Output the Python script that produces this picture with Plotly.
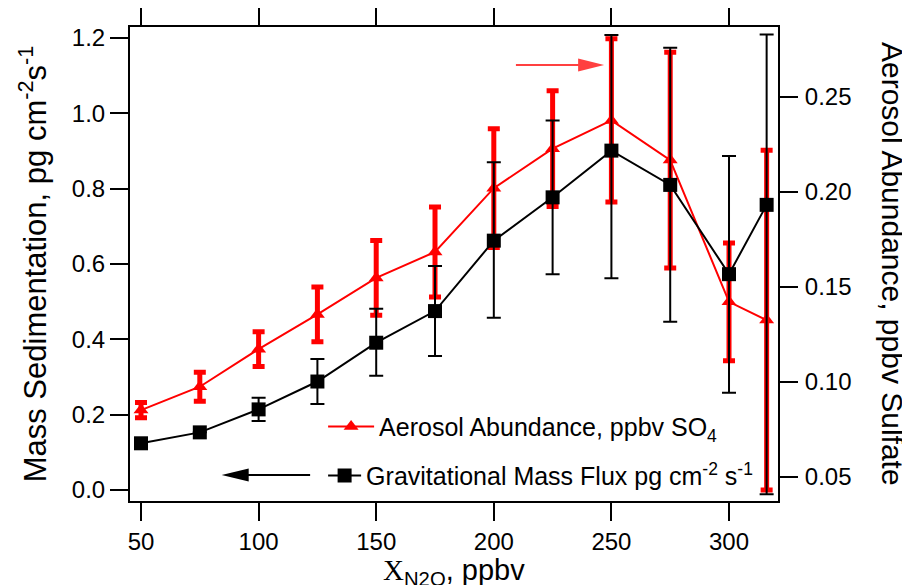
import plotly.graph_objects as go

# ---- data ----
x_n2o = [50, 75, 100, 125, 150, 175, 200, 225, 250, 275, 300, 316]

# Gravitational mass flux (left axis, pg cm-2 s-1)
mass_flux = [0.124, 0.153, 0.214, 0.288, 0.391, 0.475, 0.662, 0.777, 0.901, 0.810, 0.573, 0.757]
mass_err_plus = [0.0, 0.0, 0.031, 0.060, 0.090, 0.120, 0.208, 0.204, 0.307, 0.364, 0.314, 0.452]
mass_err_minus = [0.0, 0.0, 0.031, 0.060, 0.088, 0.119, 0.205, 0.204, 0.339, 0.363, 0.315, 0.768]

# Aerosol abundance (right axis, ppbv sulfate)
aerosol = [0.0850, 0.0973, 0.1171, 0.1354, 0.1546, 0.1683, 0.2019, 0.2227, 0.2376, 0.2167, 0.1420, 0.1324]
aerosol_err = [0.0040, 0.0076, 0.0092, 0.0144, 0.0197, 0.0237, 0.0313, 0.0305, 0.0430, 0.0568, 0.0310, 0.0895]

x_ticks = [50, 100, 150, 200, 250, 300]
left_ticks = [0.0, 0.2, 0.4, 0.6, 0.8, 1.0, 1.2]
right_ticks = [0.05, 0.10, 0.15, 0.20, 0.25]

# arrows (data coordinates: x, left-axis value)
red_arrow_tail, red_arrow_tip, red_arrow_y = 209.4, 246.9, 1.128
black_arrow_tail, black_arrow_tip, black_arrow_y = 121.9, 84.3, 0.040

FONT = "Arial, Liberation Sans, sans-serif"
RED = "#ff0000"
BLACK = "#000000"

fig = go.Figure()

fig.add_trace(go.Scatter(
    x=x_n2o, y=aerosol, yaxis="y", mode="lines+markers",
    name="Aerosol Abundance, ppbv SO<sub>4</sub>",
    line=dict(color=RED, width=2),
    marker=dict(symbol="triangle-up", size=13, color=RED),
    error_y=dict(type="data", array=aerosol_err, color=RED, thickness=5, width=6),
    legend="legend",
))

fig.add_trace(go.Scatter(
    x=x_n2o, y=mass_flux, yaxis="y2", mode="lines+markers",
    name="Gravitational Mass Flux pg cm<sup>-2</sup> s<sup>-1</sup>",
    line=dict(color=BLACK, width=2),
    marker=dict(symbol="square", size=14, color=BLACK),
    error_y=dict(type="data", array=mass_err_plus, arrayminus=mass_err_minus,
                 symmetric=False, color=BLACK, thickness=2, width=7),
    legend="legend2",
))

axis_common = dict(
    showline=True, linecolor=BLACK, linewidth=2,
    ticks="outside", ticklen=18, tickwidth=2, tickcolor=BLACK,
    showgrid=False, zeroline=False, automargin=False,
    tickfont=dict(family=FONT, size=24, color=BLACK),
)

# page body has an 8px margin, so the figure is 8px smaller than the window
fig.update_layout(
    width=902, height=577,
    margin=dict(l=122, r=132, t=19, b=84, autoexpand=False),
    paper_bgcolor="white", plot_bgcolor="white",
    font=dict(family=FONT, color=BLACK),
    xaxis=dict(
        range=[45.32, 320.83], tickvals=x_ticks, mirror="ticks",
        **axis_common,
    ),
    yaxis=dict(
        range=[0.0371, 0.2868], tickvals=right_ticks, tickformat=".2f",
        side="right", ticklabelstandoff=2,
        **axis_common,
    ),
    yaxis2=dict(
        range=[-0.0292, 1.2292], tickvals=left_ticks, tickformat=".1f",
        side="left", overlaying="y",
        title=dict(text="Mass Sedimentation, pg cm<sup>-2</sup>s<sup>-1</sup>",
                   font=dict(family=FONT, size=31, color=BLACK), standoff=16),
        **axis_common,
    ),
    legend=dict(
        x=0.298, y=0.205, xanchor="left", yanchor="top",
        bgcolor="rgba(0,0,0,0)", itemwidth=46,
        font=dict(family=FONT, size=25, color=BLACK),
    ),
    legend2=dict(
        x=0.298, y=0.102, xanchor="left", yanchor="top",
        bgcolor="rgba(0,0,0,0)", itemwidth=33,
        font=dict(family=FONT, size=25, color=BLACK),
    ),
    showlegend=True,
    annotations=[
        dict(
            text='<span style="font-family:Liberation Serif">X</span><sub>N2O</sub>, ppbv',
            xref="paper", yref="paper", x=0.5, y=-0.150,
            xanchor="center", yanchor="middle", showarrow=False,
            font=dict(family=FONT, size=29, color=BLACK),
        ),
        dict(
            text="Aerosol Abundance, ppbv Sulfate", textangle=90,
            xref="paper", yref="paper", x=1.1775, y=0.5,
            xanchor="center", yanchor="middle", showarrow=False,
            font=dict(family=FONT, size=30, color=BLACK),
        ),
    ],
    shapes=[
        dict(type="line", xref="x", yref="y2", x0=red_arrow_tail, x1=red_arrow_tip - 8,
             y0=red_arrow_y, y1=red_arrow_y, line=dict(color="#ff4040", width=2)),
        dict(type="path", xref="x", yref="y2", xsizemode="pixel", ysizemode="pixel",
             xanchor=red_arrow_tip, yanchor=red_arrow_y,
             path="M0,0 L-26,6.5 L-26,-6.5 Z", fillcolor="#ff4040", line=dict(width=0)),
        dict(type="line", xref="x", yref="y2", x0=black_arrow_tail, x1=black_arrow_tip + 8,
             y0=black_arrow_y, y1=black_arrow_y, line=dict(color=BLACK, width=2)),
        dict(type="path", xref="x", yref="y2", xsizemode="pixel", ysizemode="pixel",
             xanchor=black_arrow_tip, yanchor=black_arrow_y,
             path="M0,0 L27,6.5 L27,-6.5 Z", fillcolor=BLACK, line=dict(width=0)),
    ],
)

fig.write_html("out.html")
